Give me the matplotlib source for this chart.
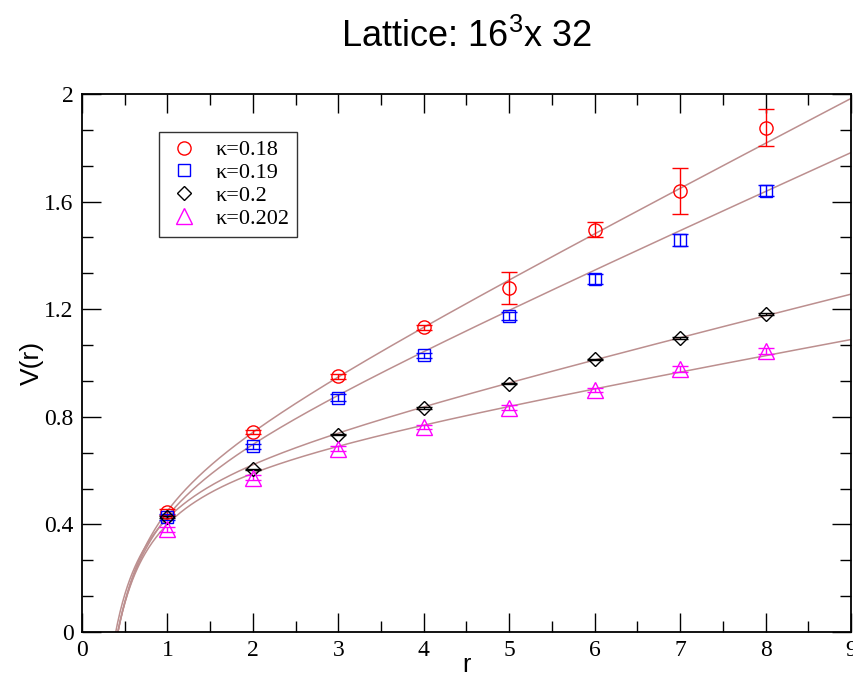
import matplotlib
matplotlib.use("Agg")
import matplotlib.pyplot as plt
from matplotlib.lines import Line2D
import numpy as np

plt.rcParams['font.family'] = ['Liberation Serif', 'DejaVu Serif']
plt.rcParams['mathtext.fontset'] = 'custom'
plt.rcParams['mathtext.rm'] = 'Liberation Sans'

# static potential for each hopping parameter
r = [1, 2, 3, 4, 5, 6, 7, 8]
v_018 = [0.446, 0.743, 0.950, 1.132, 1.278, 1.495, 1.640, 1.875]
e_018 = [0.010, 0.008, 0.010, 0.010, 0.060, 0.028, 0.086, 0.069]
v_019 = [0.428, 0.690, 0.871, 1.028, 1.173, 1.312, 1.457, 1.640]
e_019 = [0.010, 0.010, 0.012, 0.010, 0.015, 0.018, 0.022, 0.020]
v_020 = [0.428, 0.604, 0.734, 0.832, 0.923, 1.013, 1.093, 1.182]
e_020 = [0.003, 0.003, 0.003, 0.003, 0.003, 0.003, 0.003, 0.003]
v_0202 = [0.381, 0.574, 0.682, 0.762, 0.834, 0.900, 0.977, 1.044]
e_0202 = [0.008, 0.008, 0.008, 0.008, 0.008, 0.008, 0.010, 0.010]

kappas = ["0.18", "0.19", "0.2", "0.202"]

# Cornell fit V(r) = a0 + sigma*r - alpha/r
fit_a0 = [0.545, 0.541, 0.590, 0.610]
fit_sigma = [0.163, 0.141, 0.077, 0.0563]
fit_alpha = [0.258, 0.252, 0.245, 0.266]

series = [(v_018, e_018), (v_019, e_019), (v_020, e_020), (v_0202, e_0202)]
colors = ['#ff0000', '#0000ff', '#000000', '#ff00ff']
markers = ['o', 's', 'D', '^']
msizes = [9.5, 9.0, 7.5, 11.0]

fig = plt.figure(figsize=(8.54, 6.77), dpi=100)
ax = fig.add_axes([0.0960, 0.0665, 0.9005, 0.7947])

rr = np.linspace(0.3, 9.0, 600)
for a0, s, al in zip(fit_a0, fit_sigma, fit_alpha):
    ax.plot(rr, a0 + s * rr - al / rr, color='#bc8f8f', lw=1.1, zorder=1)

handles = []
for (v, e), c, m, ms, k in zip(series, colors, markers, msizes, kappas):
    ax.errorbar(r, v, yerr=e, fmt=m, ms=ms, mfc='none', mec=c, mew=1.0,
                ecolor=c, elinewidth=1.0, capsize=5.5, capthick=1.0,
                zorder=3)
    handles.append(Line2D([], [], ls='none', marker=m, ms=ms, mfc='none',
                          mec=c, mew=1.0, label='\u03ba=' + k))

ax.set_xlim(0, 9)
ax.set_ylim(0, 2)
ax.set_xticks(np.arange(0, 10, 1))
ax.set_xticks(np.arange(0, 9.01, 0.5), minor=True)
ax.set_yticks([0, 0.4, 0.8, 1.2, 1.6, 2])
ax.set_yticklabels(['0', '0.4', '0.8', '1.2', '1.6', '2'])
ax.set_yticks(np.arange(0, 2.01, 0.4 / 3), minor=True)
ax.tick_params(which='both', direction='in', top=True, right=True,
               labelsize=17, width=1.0)
ax.tick_params(which='major', length=14, pad=6)
ax.tick_params(which='minor', length=8)
for sp in ax.spines.values():
    sp.set_linewidth(1.3)

ax.set_xlabel('r', family='Liberation Sans', fontsize=18, va='baseline')
ax.xaxis.set_label_coords(0.5, -0.0745)
ax.set_ylabel('V(r)', family='Liberation Sans', fontsize=19, va='center')
ax.yaxis.set_label_coords(-0.065, 0.5)

leg = ax.legend(handles=handles, loc='upper left',
                bbox_to_anchor=(0.100, 0.929), fontsize=16, frameon=True,
                fancybox=False, borderpad=0.35, labelspacing=0.1,
                handletextpad=0.6, handlelength=1.6, borderaxespad=0)
leg.get_frame().set_edgecolor('black')
leg.get_frame().set_linewidth(1.0)

fig.text(0.5465, 1 - 47 / 677, 'Lattice: 16$^3$x 32', ha='center',
         va='baseline', family='Liberation Sans', fontsize=26)

fig.savefig('out.png', dpi=100)
